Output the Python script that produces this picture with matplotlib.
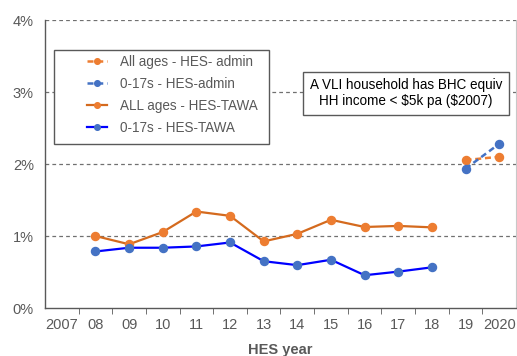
import matplotlib.pyplot as plt
import matplotlib.patches as patches
import numpy as np

plt.rcParams['font.family'] = ['Liberation Sans', 'DejaVu Sans']

years = ["2007", "08", "09", "10", "11", "12", "13", "14", "15", "16", "17", "18", "19", "2020"]
tawa_years = ["08", "09", "10", "11", "12", "13", "14", "15", "16", "17", "18"]
all_tawa = [1.00, 0.885, 1.055, 1.34, 1.28, 0.925, 1.03, 1.225, 1.125, 1.14, 1.12]
kids_tawa = [0.785, 0.837, 0.837, 0.855, 0.91, 0.65, 0.595, 0.67, 0.455, 0.505, 0.565]
admin_years = ["19", "2020"]
all_admin = [2.055, 2.10]
kids_admin = [1.935, 2.28]

grey = "#595959"
orange = "#ED7D31"
orange_line = "#D46A1E"
blue = "#4472C4"

W, H = 517, 356
fig = plt.figure(figsize=(W / 100, H / 100), dpi=100)
ax = fig.add_axes([45 / W, 1 - 308 / H, 471 / W, 288 / H])

pos = {y: i for i, y in enumerate(years)}
xt = [pos[y] for y in tawa_years]
xa = [pos[y] for y in admin_years]

ms = 5.8
dash = (0, (2.4, 1.5))
ax.plot(xa, all_admin, color=orange, ls=dash, lw=1.8, marker="o", ms=ms,
        mfc=orange, mec=orange, label="All ages - HES- admin")
ax.plot(xa, kids_admin, color=blue, ls=dash, lw=1.8, marker="o", ms=ms,
        mfc=blue, mec=blue, label="0-17s - HES-admin")
ax.plot(xt, all_tawa, "-", color=orange_line, lw=1.6, marker="o", ms=ms,
        mfc=orange, mec=orange, label="ALL ages - HES-TAWA")
ax.plot(xt, kids_tawa, "-", color="#0000FF", lw=1.6, marker="o", ms=ms,
        mfc=blue, mec=blue, label="0-17s - HES-TAWA")

ax.set_xlim(-0.5, len(years) - 0.5)
ax.set_ylim(0, 4)
ax.set_yticks([0, 1, 2, 3, 4])
ax.set_yticklabels(["0%", "1%", "2%", "3%", "4%"])
ax.set_xticks(range(len(years)))
ax.set_xticklabels(years)
ax.set_xticks(np.arange(0.5, len(years) - 1, 1), minor=True)
ax.tick_params(axis="x", which="major", length=0, pad=7, labelsize=10.5, colors=grey)
ax.tick_params(axis="x", which="minor", length=4, color=grey)
ax.tick_params(axis="y", length=0, pad=8, labelsize=10.5, colors=grey)

for y in [1, 2, 3, 4]:
    ax.axhline(y, color="#707070", lw=0.9, ls=(0, (3, 2.5)), zorder=0)

for s in ["left", "bottom"]:
    ax.spines[s].set_color(grey)
    ax.spines[s].set_linewidth(1.0)
ax.spines["top"].set_visible(False)
ax.spines["right"].set_color("#C8C8C8")

ax.set_xlabel("HES year", fontsize=10.5, fontweight="bold", color=grey, labelpad=8)

# legend frame drawn separately so the entries can sit indented like the original
frame = patches.Rectangle((54 / W, 1 - 144 / H), 215 / W, 94 / H,
                          transform=fig.transFigure, fc="white", ec=grey,
                          lw=1.0, zorder=4, clip_on=False)
ax.add_patch(frame)
leg = ax.legend(loc="upper left", bbox_to_anchor=(87 / W, 1 - 55 / H),
                bbox_transform=fig.transFigure, fontsize=9.75, frameon=False,
                handlelength=1.5, borderpad=0, markerscale=0.7,
                labelspacing=0.58, handletextpad=0.9, borderaxespad=0)
leg.set_zorder(5)
for t in leg.get_texts():
    t.set_color(grey)

ax.text(0.766, 0.746, "A VLI household has BHC equiv\nHH income < \\$5k pa (\\$2007)",
        transform=ax.transAxes, ha="center", va="center", fontsize=9.75,
        linespacing=1.15, zorder=6,
        bbox=dict(boxstyle="square,pad=0.5", fc="white", ec=grey, lw=1.0))

fig.savefig("out.png", dpi=100)
